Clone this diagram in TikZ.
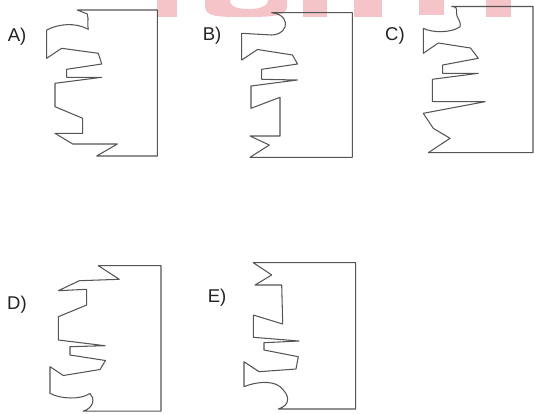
\documentclass[tikz,border=0pt]{standalone}
\usepackage{fontspec}
\setmainfont{Liberation Sans}
\definecolor{ink}{RGB}{85,85,85}
\definecolor{txt}{RGB}{35,35,35}
\definecolor{wm}{RGB}{244,196,200}
\begin{document}
\begin{tikzpicture}[x=1pt,y=-1pt,
  outline/.style={draw=ink,line width=1.05pt,line join=round},
  lab/.style={text=txt,font=\fontsize{18.5}{18.5}\selectfont,inner sep=0pt}]
\useasboundingbox (0,0) rectangle (534,413);
% watermark remnants
\fill[wm] (157,0) rectangle (177,17);
\fill[wm] (205,0) -- (205,6) .. controls (205,17) and (218,17) .. (246,17) .. controls (278,17) and (287,15) .. (287,6) -- (287,0) -- (268,0) .. controls (268,7) and (258,9) .. (249,9) .. controls (238,9) and (230,7) .. (230,0) -- cycle;
\fill[wm] (303,0) rectangle (327,17);
\fill[wm] (354,0) rectangle (382,17);
\fill[wm] (419,0) rectangle (444,15);
\fill[wm] (486,0) rectangle (511,17);
% A
\draw[outline] (77.3,10) -- (87.3,14) .. controls (89,20) and (87,25) .. (88.3,29.3)
  .. controls (75,22) and (58,24) .. (46.7,30) -- (46.7,58.3) -- (61.7,48.3) -- (98.3,53.3)
  -- (101.7,64) -- (66.7,69.3) -- (66.7,77.3) -- (101.7,77.3) -- (55,83.3) -- (55,106.7)
  -- (82.7,118.3) -- (82.7,133.3) -- (55,133.3) -- (72.7,144) -- (117.3,144) -- (96.7,156)
  -- (157.3,156) -- (157.3,10) -- cycle;
\node[lab] (la) at (17,37) {A)};
% B
\draw[outline] (271.7,12.7) .. controls (284,14) and (287,22) .. (285,27)
  .. controls (283,33) and (276,35) .. (271.7,35) -- (241.7,33.3) -- (241.7,60) -- (257.5,49.5)
  -- (292.5,55) -- (297.5,64) -- (261.7,69.3) -- (261.7,79.3) -- (297.3,80) -- (251,86)
  -- (251,108.3) -- (280,97.3) -- (280,136) -- (250,136) -- (269.3,145) -- (250,157.3)
  -- (352.3,157.3) -- (352.3,12.7) -- cycle;
\node[lab] (lb) at (212,36) {B)};
% C
\draw[outline] (451.7,6.5) .. controls (460,7) and (455,12) .. (457,16)
  .. controls (459,20) and (461,23) .. (460,26.7) .. controls (452,33) and (432,33) .. (423.3,28.3)
  -- (423.3,53.3) -- (438.3,43) -- (470.5,48) -- (478.3,58.3) -- (442.7,65) -- (442.7,73.3)
  -- (478.3,73.3) -- (432.3,79.3) -- (432.3,101.7) -- (485,101.7) -- (423.3,113.3)
  -- (433.3,128.3) -- (450,138.3) -- (428.3,152.7) -- (533,152.7) -- (533,6.5) -- cycle;
\node[lab] (lc) at (395,36) {C)};
% D
\draw[outline] (98.3,265.7) -- (119.3,279.3) -- (79.3,280.7) -- (58.3,290.7) -- (86.7,289.3)
  -- (86.7,305) -- (58.3,316.7) -- (58.3,340) -- (105,345.7) -- (70,346.7) -- (70,355)
  -- (105.5,360.5) -- (100,369.5) -- (63.3,375.5) -- (50,366.7) -- (50,393.3)
  .. controls (60,399) and (80,400) .. (90,393.5) .. controls (95,398) and (94,408) .. (83,411.2)
  -- (161,411.2) -- (161,265.7) -- cycle;
\node[lab] (ld) at (17,305) {D)};
% E
\draw[outline] (253.3,262.7) -- (271.7,275) -- (255,285) -- (281.7,285) -- (282.7,324)
  -- (253.3,315) -- (253.3,337.3) -- (299,341) -- (264,342.7) -- (264,350) -- (298.3,356.7)
  -- (296,369) -- (259,371.7) -- (244,361.7) -- (244,386.7)
  .. controls (255,382) and (272,380) .. (280,386.7) .. controls (290,395) and (291,405) .. (278.3,409)
  -- (355.7,409) -- (355.7,262.7) -- cycle;
\node[lab] (le) at (217,298) {E)};
\end{tikzpicture}
\end{document}
